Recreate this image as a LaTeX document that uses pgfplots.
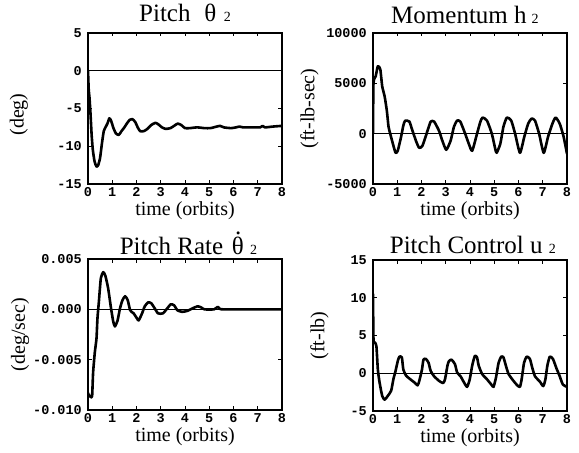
\documentclass[border=0pt]{standalone}
\usepackage{fontspec}
\setmainfont{Liberation Serif}
\newfontfamily\monof{Liberation Mono}
\usepackage{pgfplots}
\pgfplotsset{compat=1.18}
\newcommand{\thetadot}{\makebox[0pt][l]{\hspace{0.13em}\smash{\raisebox{0.78em}{.}}}θ}
\begin{document}
\begin{tikzpicture}
\useasboundingbox (0pt,0pt) rectangle (579pt,453pt);
\pgfplotsset{
 every axis title shift=0pt,
 myax/.style={
  scale only axis, width=194pt, height=151pt, anchor=south west,
  xmin=0, xmax=8, xtick={0,1,2,3,4,5,6,7,8}, xticklabels={0,1,2,3,4,5,6,7,8},
  axis line style={line width=1.2pt},
  tick style={line width=0.9pt, black},
  major tick length=3.5pt,
  tick align=inside,
  ticklabel style={font=\monof\bfseries\fontsize{13.5}{13.5}\selectfont},
  xticklabel style={inner sep=2pt, yshift=-1pt},
  yticklabel style={inner sep=2pt, xshift=-4pt},
  scaled y ticks=false,
  title style={font=\fontsize{25}{25}\selectfont, anchor=base, inner sep=0pt},
  xlabel={time (orbits)},
  xlabel style={font=\fontsize{20}{20}\selectfont, at={(0.5,0)}, anchor=base, yshift=-32pt, inner sep=1pt},
  ylabel style={font=\fontsize{20}{20}\selectfont, anchor=center},
 },
 curve/.style={black, line width=2.6pt, line join=round, line cap=round, smooth, tension=0.35},
 zero/.style={black, line width=1.1pt},
}
% ---------- Pitch theta ----------
\begin{axis}[myax, at={(88pt,269pt)},
  ymin=-15, ymax=5, ytick={-15,-10,-5,0,5}, yticklabels={-15,-10,-5,0,5},
  title={Pitch\hspace{0.55em}θ\hspace{0.3em}{\fontsize{14}{14}\selectfont 2}},
  title style={at={(0.5,1.079)}},
  ylabel={(deg)}, ylabel style={at={(-0.356,0.46)}}]
\addplot[zero] coordinates {(0,0) (8,0)};
\addplot[curve] coordinates {
(0,0) (0.03,-2.5) (0.06,-3.5) (0.1,-5.5) (0.15,-8.5) (0.2,-10.5) (0.27,-12) (0.35,-12.7)
(0.42,-12.5) (0.5,-11.5) (0.58,-9.5) (0.65,-8) (0.72,-7.5) (0.8,-7) (0.88,-6.3) (0.95,-6.6)
(1.05,-7.6) (1.15,-8.3) (1.27,-8.5) (1.38,-8.0) (1.5,-7.5) (1.6,-7.0) (1.72,-6.5) (1.83,-6.4)
(1.95,-6.8) (2.05,-7.5) (2.15,-8.0) (2.3,-8.0) (2.45,-7.7) (2.6,-7.2) (2.78,-6.9) (2.9,-7.1)
(3.05,-7.5) (3.2,-7.7) (3.4,-7.6) (3.55,-7.3) (3.7,-7.0) (3.85,-7.2) (4.0,-7.6) (4.2,-7.6)
(4.5,-7.5) (4.8,-7.6) (5.05,-7.6) (5.3,-7.4) (5.45,-7.3) (5.6,-7.5) (5.9,-7.6) (6.1,-7.5)
(6.25,-7.4) (6.4,-7.5) (6.8,-7.5) (7.1,-7.5) (7.2,-7.3) (7.3,-7.5) (7.6,-7.4) (8.0,-7.3)};
\end{axis}
% ---------- Momentum h ----------
\begin{axis}[myax, at={(373pt,269pt)},
  ymin=-5000, ymax=10000, ytick={-5000,0,5000,10000}, yticklabels={-5000,0,5000,10000},
  title={Momentum h\hspace{0.2em}{\fontsize{14}{14}\selectfont 2}},
  title style={at={(0.474,1.06)}},
  ylabel={(ft-lb-sec)}, ylabel style={at={(-0.327,0.5)}}]
\addplot[zero] coordinates {(0,0) (8,0)};
\addplot[curve] coordinates {
(0,0) (0.02,5000) (0.11,5700) (0.2,6700) (0.3,6400) (0.38,4700) (0.48,3700) (0.57,2300)
(0.64,700) (0.71,0) (0.82,-1000) (0.93,-1900) (1.02,-1700) (1.16,-300) (1.25,800) (1.33,1300)
(1.5,1200) (1.6,500) (1.77,-700) (1.9,-1400) (2.04,-1200) (2.25,300) (2.38,1200) (2.52,1200)
(2.72,300) (2.86,-700) (3.02,-1600) (3.2,-700) (3.34,700) (3.47,1300) (3.6,1200) (3.8,0)
(3.95,-1000) (4.09,-1700) (4.29,0) (4.43,1200) (4.52,1600) (4.7,1300) (4.9,0) (5.04,-1500)
(5.1,-1900) (5.25,-1000) (5.38,700) (5.52,1600) (5.7,1300) (5.86,0) (6.06,-1900) (6.24,-300)
(6.4,1000) (6.54,1500) (6.68,1300) (6.85,0) (7.04,-1900) (7.22,-300) (7.4,1000) (7.53,1600)
(7.7,1000) (7.86,-300) (8.0,-2000)};
\end{axis}
% ---------- Pitch rate ----------
\begin{axis}[myax, at={(88pt,43pt)},
  ymin=-0.010, ymax=0.005, ytick={-0.010,-0.005,0,0.005}, yticklabels={-0.010,-0.005,0.000,0.005},
  title={Pitch Rate\hspace{0.35em}\thetadot\hspace{0.25em}{\fontsize{14}{14}\selectfont 2}},
  title style={at={(0.518,1.033)}},
  ylabel={(deg/sec)}, ylabel style={at={(-0.35,0.5)}}]
\addplot[zero] coordinates {(0,0) (8,0)};
\addplot[curve] coordinates {
(0,-0.0083) (0.03,-0.0085) (0.11,-0.0087) (0.17,-0.0086) (0.21,-0.0063) (0.28,-0.0043)
(0.35,-0.0029) (0.39,-0.0009) (0.45,0.0008) (0.53,0.0031) (0.63,0.0037) (0.72,0.0033)
(0.83,0.0021) (0.95,0.0001) (1.04,-0.0012) (1.11,-0.0017) (1.22,-0.0011) (1.32,0.0001)
(1.42,0.0009) (1.53,0.0013) (1.64,0.0009) (1.74,-0.0001) (1.88,-0.0004) (2.02,-0.0009)
(2.09,-0.0011) (2.23,-0.0004) (2.34,0.0003) (2.48,0.0007) (2.61,0.0006) (2.75,0.0001)
(2.89,-0.0004) (3.09,-0.0004) (3.27,0.0001) (3.41,0.0005) (3.55,0.0004) (3.69,-0.0001)
(3.89,-0.00025) (4.1,-0.00015) (4.31,0.0001) (4.52,0.0003) (4.66,0.0002) (4.8,0)
(5.2,0) (5.35,0.00025) (5.45,0.00003) (5.6,0) (6.5,0) (8,0)};
\end{axis}
% ---------- Pitch control ----------
\begin{axis}[myax, at={(373pt,42pt)},
  ymin=-5, ymax=15, ytick={-5,0,5,10,15}, yticklabels={-5,0,5,10,15},
  title={Pitch Control u\hspace{0.25em}{\fontsize{14}{14}\selectfont 2}},
  title style={at={(0.515,1.04)}},
  ylabel={(ft-lb)}, ylabel style={at={(-0.276,0.5)}}]
\addplot[zero] coordinates {(0,0) (8,0)};
\addplot[curve] coordinates {
(0,10.5) (0.02,4.5) (0.07,4.1) (0.14,3.6) (0.2,0.5) (0.27,-1.2) (0.38,-3.0) (0.48,-3.5)
(0.61,-3.0) (0.75,-2.3) (0.84,-0.8) (0.93,0.3) (1.02,1.6) (1.09,2.2) (1.19,2.1) (1.25,0.5)
(1.36,-0.3) (1.5,-0.7) (1.7,-1.2) (1.84,-1.6) (1.91,-1.0) (2.02,0.5) (2.08,1.8) (2.18,1.9)
(2.29,1.4) (2.38,0.3) (2.52,-0.4) (2.72,-1.0) (2.89,-1.3) (2.97,-0.8) (3.07,1.0) (3.13,1.6)
(3.24,1.8) (3.38,1.2) (3.47,0.1) (3.61,-0.4) (3.75,-1.2) (3.88,-1.8) (3.99,-0.8) (4.09,1.0)
(4.2,2.3) (4.29,2.1) (4.36,1.0) (4.5,-0.1) (4.7,-0.8) (4.88,-1.5) (4.97,-1.8) (5.07,-0.6)
(5.18,1.4) (5.29,2.2) (5.38,2.1) (5.48,1.0) (5.59,-0.1) (5.79,-1.0) (5.95,-1.6) (6.06,-1.8)
(6.13,-0.8) (6.23,1.4) (6.34,2.2) (6.47,1.9) (6.57,0.7) (6.68,-0.4) (6.88,-1.1) (7.02,-1.7)
(7.11,-0.8) (7.19,1.0) (7.29,2.2) (7.42,1.9) (7.56,0.7) (7.7,-0.4) (7.83,-1.5) (8.0,-1.8)};
\end{axis}
\end{tikzpicture}
\end{document}
